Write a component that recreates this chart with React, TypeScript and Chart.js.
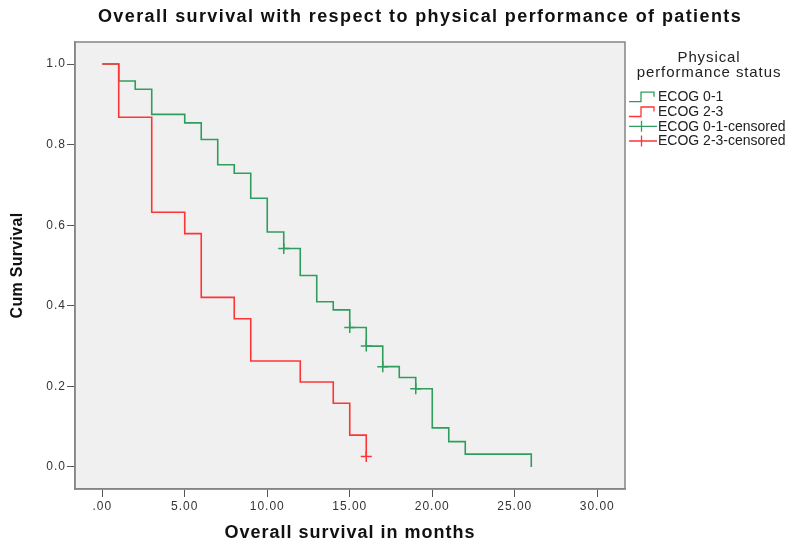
import React, { useEffect, useRef } from 'react';
import { Chart, registerables } from 'chart.js';

Chart.register(...registerables);

const FONT = '"Liberation Sans", Arial, sans-serif';

const titleText = 'Overall survival with respect to physical performance of patients';
const xAxisTitle = 'Overall survival in months';
const yAxisTitle = 'Cum Survival';
const legendTitle = ['Physical', 'performance status'];
const seriesNames = ['ECOG 0-1', 'ECOG 2-3', 'ECOG 0-1-censored', 'ECOG 2-3-censored'];

const ecog01Times = [0, 1, 2, 3, 5, 6, 7, 8, 9, 10, 11, 12, 13, 14, 15, 16, 17, 18, 19, 20, 21, 22, 26];
const ecog01Surv = [1, 0.958, 0.9375, 0.875, 0.854, 0.8125, 0.75, 0.729, 0.667, 0.583, 0.542, 0.475, 0.41, 0.39, 0.346, 0.3, 0.249, 0.222, 0.194, 0.097, 0.063, 0.032, 0];
const ecog23Times = [0, 1, 3, 5, 6, 8, 9, 12, 14, 15, 16];
const ecog23Surv = [1, 0.868, 0.632, 0.579, 0.421, 0.368, 0.263, 0.211, 0.158, 0.079, 0.026];
const ecog01CensTimes = [11, 15, 16, 17, 19];
const ecog01CensSurv = [0.542, 0.346, 0.3, 0.249, 0.194];
const ecog23CensTimes = [16];
const ecog23CensSurv = [0.026];

const xTicks = [0, 5, 10, 15, 20, 25, 30];
const yTicks = [0, 0.2, 0.4, 0.6, 0.8, 1.0];

const GREEN = '#2f9d5e';
const RED = '#ff3434';

const pts = (xs: number[], ys: number[]) => xs.map((x, i) => ({ x, y: ys[i] }));

const customPlugin = {
  id: 'customDeco',
  beforeDraw(chart: any) {
    const { ctx, chartArea: a } = chart;
    ctx.save();
    ctx.fillStyle = '#ffffff';
    ctx.fillRect(0, 0, chart.width, chart.height);
    ctx.fillStyle = '#f0f0f0';
    ctx.fillRect(a.left, a.top, a.right - a.left, a.bottom - a.top);
    ctx.restore();
    ctx.letterSpacing = '1px';
  },
  afterDraw(chart: any) {
    const { ctx, chartArea: a } = chart;
    ctx.save();
    // frame
    ctx.strokeStyle = '#858585';
    ctx.lineWidth = 1.5;
    ctx.strokeRect(a.left, a.top, a.right - a.left, a.bottom - a.top);

    ctx.fillStyle = '#111';
    ctx.textAlign = 'center';
    ctx.textBaseline = 'middle';
    // main title
    ctx.letterSpacing = '1.4px';
    ctx.font = `bold 18px ${FONT}`;
    ctx.fillText(titleText, 420, 17);
    // x title
    ctx.letterSpacing = '1px';
    ctx.font = `bold 18px ${FONT}`;
    ctx.fillText(xAxisTitle, (a.left + a.right) / 2, 533);
    // y title
    ctx.save();
    ctx.translate(18, (a.top + a.bottom) / 2);
    ctx.rotate(-Math.PI / 2);
    ctx.letterSpacing = '0.3px';
    ctx.font = `bold 16px ${FONT}`;
    ctx.fillText(yAxisTitle, 0, 0);
    ctx.restore();

    // legend
    ctx.fillStyle = '#222';
    ctx.letterSpacing = '0.9px';
    ctx.font = `15px ${FONT}`;
    ctx.fillText(legendTitle[0], 709, 58);
    ctx.fillText(legendTitle[1], 709, 73);

    ctx.textAlign = 'left';
    ctx.letterSpacing = '0px';
    ctx.font = `14px ${FONT}`;
    const rows = [96.7, 111.5, 126.3, 141];
    const cols = [GREEN, RED, GREEN, RED];
    rows.forEach((yc, i) => {
      ctx.strokeStyle = cols[i];
      ctx.lineWidth = 1.3;
      ctx.beginPath();
      if (i < 2) {
        ctx.moveTo(629, yc + 5);
        ctx.lineTo(641, yc + 5);
        ctx.lineTo(641, yc - 4.5);
        ctx.lineTo(654, yc - 4.5);
        ctx.lineTo(654, yc);
      } else {
        ctx.moveTo(629, yc);
        ctx.lineTo(657, yc);
        ctx.moveTo(641.5, yc - 5.5);
        ctx.lineTo(641.5, yc + 5.5);
      }
      ctx.stroke();
      ctx.fillStyle = '#222';
      ctx.fillText(seriesNames[i], 658, yc + 0.5);
    });
    ctx.restore();
  },
};

export default function App() {
  const ref = useRef<HTMLCanvasElement>(null);
  useEffect(() => {
    if (!ref.current) return;
    const chart = new Chart(ref.current, {
      type: 'scatter',
      data: {
        datasets: [
          {
            label: seriesNames[3],
            data: pts(ecog23CensTimes, ecog23CensSurv),
            showLine: false,
            pointStyle: 'cross',
            pointRadius: 5.5,
            borderColor: RED,
            backgroundColor: RED,
            pointBorderWidth: 1.5,
          },
          {
            label: seriesNames[2],
            data: pts(ecog01CensTimes, ecog01CensSurv),
            showLine: false,
            pointStyle: 'cross',
            pointRadius: 5.5,
            borderColor: GREEN,
            backgroundColor: GREEN,
            pointBorderWidth: 1.5,
          },
          {
            label: seriesNames[1],
            data: pts(ecog23Times, ecog23Surv),
            showLine: true,
            stepped: 'before',
            borderColor: RED,
            backgroundColor: RED,
            borderWidth: 1.6,
            pointRadius: 0,
            fill: false,
          },
          {
            label: seriesNames[0],
            data: pts(ecog01Times, ecog01Surv),
            showLine: true,
            stepped: 'before',
            borderColor: GREEN,
            backgroundColor: GREEN,
            borderWidth: 1.6,
            pointRadius: 0,
            fill: false,
          },
        ],
      } as any,
      options: {
        responsive: false,
        animation: false,
        devicePixelRatio: 1,
        layout: { padding: { top: 42, right: 167, left: 0, bottom: 0 } },
        plugins: {
          legend: { display: false },
          title: { display: false },
          tooltip: { enabled: false },
        },
        scales: {
          x: {
            type: 'linear',
            min: -1.65,
            max: 31.68,
            afterFit: (s: any) => { s.height = 55; },
            afterBuildTicks: (s: any) => { s.ticks = xTicks.map((v) => ({ value: v })); },
            grid: { drawOnChartArea: false, drawTicks: true, tickLength: 8, tickColor: '#555', tickWidth: 1 },
            border: { display: true, color: '#858585', width: 1.5 },
            ticks: {
              padding: 2,
              color: '#333',
              font: { family: FONT, size: 12 },
              maxRotation: 0,
              autoSkip: false,
              callback: (v: any) => (v === 0 ? '.00' : Number(v).toFixed(2)),
            },
          },
          y: {
            type: 'linear',
            min: -0.0546,
            max: 1.0546,
            afterFit: (s: any) => { s.width = 75; },
            afterBuildTicks: (s: any) => { s.ticks = yTicks.map((v) => ({ value: v })); },
            grid: { drawOnChartArea: false, drawTicks: true, tickLength: 8, tickColor: '#555', tickWidth: 1 },
            border: { display: true, color: '#858585', width: 1.5 },
            ticks: {
              padding: 1,
              color: '#333',
              font: { family: FONT, size: 12 },
              autoSkip: false,
              callback: (v: any) => Number(v).toFixed(1),
            },
          },
        },
      } as any,
      plugins: [customPlugin],
    });
    return () => chart.destroy();
  }, []);
  return (
    <div style={{ position: 'absolute', left: 0, top: 0, width: 792, height: 544 }}>
      <canvas ref={ref} width={792} height={544} style={{ width: 792, height: 544, display: 'block' }} />
    </div>
  );
}
